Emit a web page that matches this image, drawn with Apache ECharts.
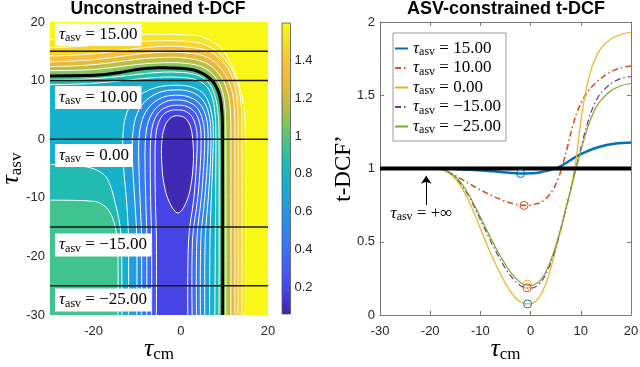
<!DOCTYPE html>
<html>
<head>
<meta charset="utf-8">
<title>Unconstrained and ASV-constrained t-DCF</title>
<style>
  html, body { margin: 0; padding: 0; background: #fff; }
  #main { width: 640px; height: 367px; }
</style>
<script src="https://cdn.jsdelivr.net/npm/echarts@6/dist/echarts.min.js"></script>
</head>
<body>
<div id="main"></div>
<script>
// ---- right panel: normalised t-DCF' per tau_asv row
var tauCm = [-30, -25, -20, -18, -17, -16, -15, -14, -13, -12, -11, -10, -9, -8, -7, -6, -5, -4, -3, -2, -1,
             0, 1, 2, 3, 4, 5, 6, 7, 8, 9, 10, 11, 12, 13, 14, 16, 18, 20];
var dcfAsv15 = [1, 1, 1, 1, 0.999, 0.998, 0.997, 0.995, 0.993, 0.991, 0.989, 0.987, 0.985, 0.982, 0.979, 0.976, 0.973, 0.97, 0.968, 0.966, 0.966,
                0.967, 0.97, 0.975, 0.982, 0.991, 1.002, 1.017, 1.036, 1.058, 1.079, 1.098, 1.114, 1.128, 1.14, 1.15, 1.165, 1.174, 1.178];
var dcfAsv10 = [1, 1, 1, 0.995, 0.985, 0.97, 0.952, 0.932, 0.912, 0.892, 0.872, 0.853, 0.836, 0.819, 0.803, 0.789, 0.776, 0.765, 0.756, 0.75, 0.748,
                0.75, 0.757, 0.77, 0.792, 0.83, 0.89, 0.98, 1.1, 1.24, 1.36, 1.445, 1.505, 1.55, 1.585, 1.615, 1.66, 1.688, 1.7];
var dcfAsv0 = [1, 1, 0.999, 0.993, 0.983, 0.962, 0.93, 0.885, 0.825, 0.755, 0.675, 0.59, 0.505, 0.425, 0.35, 0.28, 0.215, 0.16, 0.118, 0.09, 0.076,
               0.076, 0.092, 0.135, 0.21, 0.315, 0.445, 0.58, 0.72, 0.86, 1.05, 1.32, 1.53, 1.67, 1.76, 1.82, 1.885, 1.915, 1.93];
var dcfAsvM15 = [1, 1, 0.999, 0.994, 0.985, 0.967, 0.94, 0.9, 0.85, 0.79, 0.722, 0.65, 0.578, 0.507, 0.44, 0.375, 0.318, 0.268, 0.228, 0.2, 0.185,
                 0.183, 0.193, 0.222, 0.275, 0.355, 0.46, 0.585, 0.72, 0.86, 1.0, 1.14, 1.27, 1.38, 1.46, 1.515, 1.58, 1.615, 1.628];
var dcfAsvM25 = [1, 1, 0.999, 0.995, 0.987, 0.97, 0.945, 0.908, 0.86, 0.802, 0.737, 0.668, 0.598, 0.53, 0.463, 0.4, 0.343, 0.292, 0.252, 0.222, 0.205,
                 0.202, 0.212, 0.24, 0.292, 0.37, 0.47, 0.59, 0.72, 0.855, 0.99, 1.12, 1.24, 1.34, 1.415, 1.465, 1.53, 1.565, 1.58];
var rowNames = ['15.00', '10.00', '0.00', '\u221215.00', '\u221225.00'];
// circles at the minima: tau_cm, t-DCF', colour index
var minMarks = [[-2, 0.966, 0], [-1.3, 0.748, 1], [-0.7, 0.21, 2], [-0.7, 0.186, 1], [-0.6, 0.076, 0]];
var baseLevel = 1; // tau_asv = +inf

// ---- left panel: contour lines of the unconstrained t-DCF (tau_cm, tau_asv)
var levels = [1.55, 1.5, 1.4, 1.3, 1.2, 1.1, 1.0, 0.9, 0.8, 0.7, 0.6, 0.5, 0.4, 0.3, 0.2, 0.1];
// colour (as a t-DCF value) seen inside each line, below its level
var bandValues = [1.53, 1.46, 1.36, 1.26, 1.17, 1.08, 0.95, 0.86, 0.76, 0.66, 0.56, 0.46, 0.36, 0.27, 0.19, 0.08];
var c155 = [[-30, 17.0], [-22, 17.3], [-14, 17.65], [-6, 17.9], [1, 17.8], [5, 17.45], [9.4, 15.4], [11.9, 12.2], [13.6, 8.6], [14.5, 5.2], [14.8, 1], [14.8, -30]];
var c150 = [[-30, 15.6], [-22, 15.9], [-16, 16.3], [-10, 16.65], [-4, 16.8], [1, 16.7], [6, 16.0], [10.2, 13.6], [12.8, 10.0], [13.8, 6.2], [14.0, 2], [14.0, -30]];
var c140 = [[-30, 14.2], [-22, 14.45], [-16, 14.9], [-10, 15.5], [-4, 15.85], [1, 15.75], [6.5, 15.0], [10.3, 12.6], [12.4, 9.2], [13.0, 5.5], [13.1, 0], [13.1, -30]];
var c130 = [[-30, 13.2], [-22, 13.45], [-16, 13.9], [-10, 14.5], [-4, 14.85], [1, 14.75], [6, 14.0], [9.5, 11.8], [11.6, 8.6], [12.3, 4.8], [12.4, 0], [12.4, -30]];
var c120 = [[-30, 12.4], [-22, 12.6], [-16, 13.05], [-10, 13.65], [-4, 13.95], [1, 13.85], [5.5, 13.1], [8.7, 11.2], [10.7, 8.2], [11.4, 4.6], [11.5, 0], [11.5, -30]];
var c110 = [[-30, 11.7], [-22, 11.8], [-16, 12.2], [-10, 12.75], [-4, 13.05], [1, 12.95], [5, 12.3], [7.9, 10.6], [9.6, 8.0], [10.2, 4.6], [10.3, 0], [10.3, -30]];
var c100 = [[-30, 10.8], [-22, 10.85], [-18, 11.0], [-14, 11.4], [-10, 11.9], [-5, 12.2], [0, 12.1], [3, 11.8], [4.6, 11.35], [6.1, 10.7], [7.4, 9.8], [8.4, 8.5], [9.0, 7.1], [9.4, 5.0], [9.55, 2.5], [9.6, -30]];
var c090 = [[-30, 10.1], [-22, 10.25], [-16, 10.55], [-10, 11.05], [-4, 11.45], [0, 11.4], [3, 11.1], [5, 10.5], [6.7, 9.3], [7.8, 7.4], [8.5, 4.8], [8.75, 1.5], [8.75, -30]];
var c090low = [[-30, -10.4], [-24, -10.45], [-20, -10.6], [-18.3, -11.0], [-16.6, -12.1], [-15.3, -14.2], [-14.6, -17], [-14.4, -20], [-14.4, -30]];
var c080 = [[-30, 9.3], [-22, 9.45], [-16, 9.8], [-10, 10.25], [-4, 10.6], [0, 10.55], [3, 10.25], [5, 9.6], [6.5, 8.4], [7.4, 6.6], [7.9, 4.0], [8.05, 1], [8.0, -8], [7.8, -30]];
var c080low = [[-30, -4.3], [-24, -4.5], [-19.8, -5.1], [-17.2, -6.4], [-15.9, -8.5], [-15.0, -11], [-14.0, -14.5], [-13.6, -18], [-13.5, -30]];
var c070 = [[-12.0, -30], [-12.0, -17], [-12.4, -11], [-13.1, -5], [-13.3, 0], [-12.6, 4], [-10.4, 6.9], [-6.6, 8.6], [-2, 9.2], [2.5, 8.9], [5.4, 7.6], [6.9, 5.0], [7.45, 1.5], [7.3, -4], [7.0, -10], [6.7, -17], [6.6, -30]];
var c060 = [[-10.1, -30], [-10.1, -17], [-10.5, -11], [-11.0, -5], [-11.1, 0], [-10.3, 3.8], [-8.4, 6.3], [-5.2, 7.9], [-1.5, 8.4], [2.2, 8.1], [4.9, 6.8], [6.4, 4.4], [6.9, 1.2], [6.8, -4], [6.3, -10], [5.6, -17], [5.5, -30]];
var c050 = [[-9.0, -30], [-9.0, -17], [-9.3, -11], [-9.6, -5], [-9.6, 0], [-8.8, 3.4], [-7.0, 5.7], [-4.3, 7.1], [-1.2, 7.5], [1.9, 7.2], [4.4, 6.0], [5.8, 3.8], [6.25, 1.0], [6.1, -4], [5.5, -10], [4.6, -17], [4.5, -30]];
var c040 = [[-7.8, -30], [-7.8, -17], [-8.0, -11], [-8.2, -5], [-8.1, 0], [-7.4, 3.1], [-5.8, 5.2], [-3.5, 6.4], [-1.0, 6.7], [1.6, 6.4], [3.8, 5.3], [5.0, 3.3], [5.45, 0.8], [5.3, -4], [4.7, -10], [3.7, -17], [3.6, -30]];
var c030 = [[-6.7, -30], [-6.7, -17], [-6.9, -11], [-7.0, -5], [-6.9, 0], [-6.3, 2.8], [-4.9, 4.7], [-2.8, 5.6], [-0.8, 5.8], [1.3, 5.6], [3.2, 4.6], [4.3, 2.8], [4.65, 0.5], [4.5, -4], [3.9, -10], [2.7, -17], [2.6, -30]];
var c020 = [[-5.6, -30], [-5.6, -17], [-5.8, -11], [-5.9, -5], [-5.8, 0], [-5.2, 2.6], [-4.0, 4.2], [-2.3, 4.9], [-0.7, 5.0], [1.0, 4.8], [2.5, 3.9], [3.4, 2.3], [3.75, 0.3], [3.6, -4], [3.0, -10], [1.8, -17], [1.6, -30]];
var c010 = [[-0.7, 4.0], [1.0, 3.6], [2.2, 2.2], [2.8, -0.5], [2.9, -3.5], [2.5, -7], [1.4, -10.5], [-0.6, -12.6], [-2.6, -10.8], [-3.9, -7.5], [-4.4, -3.5], [-4.3, 0], [-3.5, 2.5], [-2.2, 3.7]];
var topValue = 1.585;   // colour beyond the outermost line
var asvRows = [15, 10, 0, -15, -25];
// where the white boxes sit: tau_cm, tau_asv, text
var asvLabels = [[-28.85, 17.87, '15.00'], [-28.85, 7.12, '10.00'], [-28.85, -2.78, '0.00'],
                 [-28.85, -18.05, '\u221215.00'], [-28.85, -27.44, '\u221225.00']];
var cbMin = 0.059, cbMax = 1.597;
var cbTicks = [0.2, 0.4, 0.6, 0.8, 1, 1.2, 1.4];

// parula, as seen on the colour bar
var parula = [[0.00, '#3E26A8'], [0.04, '#4530CC'], [0.08, '#4642E4'], [0.14, '#4656F3'], [0.20, '#3F6BF8'],
              [0.28, '#3182F0'], [0.36, '#2698E2'], [0.44, '#13ADD2'], [0.51, '#1BBAB8'], [0.57, '#3AC295'],
              [0.63, '#68C66E'], [0.69, '#A2C24C'], [0.75, '#D0BD3B'], [0.81, '#F3B93E'], [0.87, '#FAC33A'],
              [0.94, '#F4DF2B'], [1.00, '#F9FB15']];

var SERIF = "'Liberation Serif', 'DejaVu Serif', serif";
var SANS = "'Liberation Sans', Arial, Helvetica, sans-serif";
var INK = '#262626';
var BOXC = '#7a7a7a';
var lineColors = ['#0072BD', '#D95319', '#EDB120', '#7E2F8E', '#77AC30'];

function hex2rgb(h) {
    return [parseInt(h.substr(1, 2), 16), parseInt(h.substr(3, 2), 16), parseInt(h.substr(5, 2), 16)];
}
function parulaAt(v) {
    var t = Math.max(0, Math.min(1, (v - cbMin) / (cbMax - cbMin)));
    for (var i = 1; i < parula.length; i++) {
        if (t <= parula[i][0]) {
            var a = parula[i - 1], b = parula[i];
            var f = (t - a[0]) / (b[0] - a[0]);
            var ca = hex2rgb(a[1]), cb = hex2rgb(b[1]);
            return 'rgb(' + [0, 1, 2].map(function (k) { return Math.round(ca[k] + (cb[k] - ca[k]) * f); }).join(',') + ')';
        }
    }
    return parula[parula.length - 1][1];
}

var contours = [
    {kind: 'gamma', pts: c155}, {kind: 'gamma', pts: c150}, {kind: 'gamma', pts: c140},
    {kind: 'gamma', pts: c130}, {kind: 'gamma', pts: c120}, {kind: 'gamma', pts: c110},
    {kind: 'gamma', pts: c100, black: true},
    {kind: 'band', pts: c090, low: c090low}, {kind: 'band', pts: c080, low: c080low},
    {kind: 'U', pts: c070}, {kind: 'U', pts: c060}, {kind: 'U', pts: c050},
    {kind: 'U', pts: c040}, {kind: 'U', pts: c030}, {kind: 'U', pts: c020},
    {kind: 'closed', pts: c010}
];
var EXT = -34;
function fillPoly(c) {
    var p = c.pts, n = p.length;
    if (c.kind === 'gamma') return [[EXT, p[0][1]]].concat(p, [[p[n - 1][0], EXT], [EXT, EXT]]);
    if (c.kind === 'band') {
        var q = c.low.slice().reverse();
        return [[EXT, p[0][1]]].concat(p, [[p[n - 1][0], EXT], [q[0][0], EXT]], q, [[EXT, q[q.length - 1][1]]]);
    }
    if (c.kind === 'U') return [[p[0][0], EXT]].concat(p, [[p[n - 1][0], EXT]]);
    return p;
}

var SM = 0.35;
function renderMap(params, api) {
    var px = function (pts) { return pts.map(function (p) { return api.coord(p); }); };
    var kids = [];
    kids.push({type: 'polygon', shape: {points: px([[EXT, 24], [24, 24], [24, EXT], [EXT, EXT]])},
               style: {fill: parulaAt(topValue)}});
    contours.forEach(function (c, i) {
        kids.push({type: 'polygon', shape: {points: px(fillPoly(c)), smooth: SM}, style: {fill: parulaAt(bandValues[i])}});
    });
    contours.forEach(function (c) {
        var st = {fill: 'none', stroke: c.black ? '#000' : '#fff', lineWidth: c.black ? 3 : 1};
        if (c.kind === 'closed') {
            kids.push({type: 'polygon', shape: {points: px(c.pts), smooth: SM}, style: st});
        } else {
            kids.push({type: 'polyline', shape: {points: px(c.pts), smooth: SM}, style: st});
            if (c.low) kids.push({type: 'polyline', shape: {points: px(c.low), smooth: SM}, style: st});
        }
    });
    return {type: 'group', children: kids};
}

function renderBar(params, api) {
    var a = api.coord([0, cbMax]), b = api.coord([1, cbMin]);
    var stops = parula.map(function (s) { return {offset: s[0], color: s[1]}; });
    var shape = {x: a[0], y: a[1], width: b[0] - a[0], height: b[1] - a[1]};
    return {type: 'group', children: [
        {type: 'rect', shape: shape, style: {fill: new echarts.graphic.LinearGradient(0, 1, 0, 0, stops)}},
        {type: 'rect', shape: shape, style: {fill: 'none', stroke: '#555', lineWidth: 0.8}}
    ]};
}

function mathRich(size, sub) {
    return {
        t: {fontFamily: SERIF, fontStyle: 'italic', fontSize: size, lineHeight: size + 2, color: '#000'},
        s: {fontFamily: SERIF, fontSize: sub, lineHeight: sub - 1, verticalAlign: 'bottom', color: '#000'},
        e: {fontFamily: SERIF, fontSize: size, lineHeight: size + 2, color: '#000'}
    };
}
function asvText(v) { return '{t|\u03c4}{s|asv}{e| = ' + v + '}'; }

var tickLabel = {color: INK, fontFamily: SANS, fontSize: 13};

function rowSeries(vals, k) {
    return {
        name: rowNames[k], type: 'line', xAxisIndex: 1, yAxisIndex: 1,
        data: tauCm.map(function (x, i) { return [x, vals[i]]; }),
        showSymbol: false, symbol: 'none', smooth: 0.3,
        lineStyle: {color: lineColors[k], width: k === 0 ? 2.5 : (k === 1 ? 1.6 : 1.2),
                    type: (k === 1 || k === 3) ? [6, 3, 1.5, 3] : 'solid'},
        itemStyle: {color: lineColors[k]}, z: 3
    };
}

var chart = echarts.init(document.getElementById('main'));
chart.setOption({
    animation: false,
    backgroundColor: '#fff',
    graphic: [
        {type: 'text', x: 158, y: 9, style: {text: 'Unconstrained t-DCF', fontFamily: SANS, fontWeight: 'bold',
         fontSize: 17.5, fill: '#000', align: 'center', verticalAlign: 'middle'}},
        {type: 'text', x: 506, y: 9, style: {text: 'ASV-constrained t-DCF', fontFamily: SANS, fontWeight: 'bold',
         fontSize: 18, fill: '#000', align: 'center', verticalAlign: 'middle'}}
    ],
    grid: [
        {left: 50, top: 22, width: 218, height: 293, outerBoundsMode: 'none'},
        {left: 380, top: 22, width: 251, height: 293, outerBoundsMode: 'none'},
        {left: 282, top: 23, width: 8.5, height: 291, outerBoundsMode: 'none'}
    ],
    xAxis: [
        {gridIndex: 0, type: 'value', min: -30, max: 20,
         axisLine: {show: false, onZero: false}, axisTick: {show: false}, splitLine: {show: false},
         axisLabel: Object.assign({margin: 10, customValues: [-20, 0, 20]}, tickLabel),
         name: '{t|\u03c4}{s|cm}', nameLocation: 'middle', nameGap: 20, nameMoveOverlap: false,
         nameTextStyle: {rich: mathRich(26, 17)}},
        {gridIndex: 1, type: 'value', min: -30, max: 20, interval: 10,
         axisLine: {onZero: false, lineStyle: {color: BOXC}}, axisTick: {inside: true, length: 4, lineStyle: {color: BOXC}},
         splitLine: {show: false}, axisLabel: Object.assign({margin: 10}, tickLabel),
         name: '{t|\u03c4}{s|cm}', nameLocation: 'middle', nameGap: 20, nameMoveOverlap: false,
         nameTextStyle: {rich: mathRich(26, 17)}},
        {gridIndex: 1, type: 'value', position: 'top', min: -30, max: 20, interval: 10,
         axisLine: {onZero: false, lineStyle: {color: BOXC}}, axisTick: {inside: true, length: 4, lineStyle: {color: BOXC}},
         axisLabel: {show: false}, splitLine: {show: false}},
        {gridIndex: 2, type: 'value', min: 0, max: 1, show: false}
    ],
    yAxis: [
        {gridIndex: 0, type: 'value', min: -30, max: 20, interval: 10,
         axisLine: {show: false, onZero: false}, axisTick: {show: false}, splitLine: {show: false},
         axisLabel: Object.assign({margin: 5}, tickLabel),
         name: '{t|\u03c4}{s|asv}', nameLocation: 'middle', nameGap: 25, nameMoveOverlap: false,
         nameTextStyle: {rich: mathRich(26, 17)}},
        {gridIndex: 1, type: 'value', min: 0, max: 2, interval: 0.5,
         axisLine: {show: true, onZero: false, lineStyle: {color: BOXC}},
         axisTick: {show: true, inside: true, length: 4, lineStyle: {color: BOXC}},
         splitLine: {show: false}, axisLabel: Object.assign({margin: 5}, tickLabel),
         name: 't-DCF\u2019', nameLocation: 'middle', nameGap: 25, nameMoveOverlap: false,
         nameTextStyle: {fontFamily: SERIF, fontSize: 23, color: '#000'}},
        {gridIndex: 1, type: 'value', position: 'right', min: 0, max: 2, interval: 0.5,
         axisLine: {show: true, onZero: false, lineStyle: {color: BOXC}},
         axisTick: {show: true, inside: true, length: 4, lineStyle: {color: BOXC}},
         axisLabel: {show: false}, splitLine: {show: false}},
        {gridIndex: 2, type: 'value', position: 'right', min: cbMin, max: cbMax,
         axisLine: {show: false, onZero: false}, splitLine: {show: false},
         axisTick: {show: true, inside: true, length: 2.5, customValues: cbTicks, lineStyle: {color: '#444'}},
         axisLabel: Object.assign({margin: 4, customValues: cbTicks}, tickLabel)}
    ],
    legend: {
        left: 393, top: 33, orient: 'vertical', backgroundColor: '#fff',
        borderColor: '#9a9a9a', borderWidth: 1, borderRadius: 0,
        padding: [7, 5, 5, 1], itemGap: 1.5, itemWidth: 13, itemHeight: 6,
        itemStyle: {color: 'rgba(0,0,0,0)', borderWidth: 0, opacity: 0},
        data: rowNames,
        formatter: function (n) { return asvText(n); },
        textStyle: {rich: mathRich(17, 12)}
    },
    series: [
        {type: 'custom', xAxisIndex: 0, yAxisIndex: 0, data: [[0, 0]], renderItem: renderMap, clip: true, silent: true, z: 1},
        {type: 'line', xAxisIndex: 0, yAxisIndex: 0, silent: true, symbol: 'none', z: 3,
         lineStyle: {color: '#1a1a1a', width: 1.5},
         data: asvRows.reduce(function (acc, r) { return acc.concat([[-30, r], [20, r], null]); }, [])},
        {type: 'scatter', xAxisIndex: 0, yAxisIndex: 0, silent: true, symbolSize: 0, z: 4,
         itemStyle: {opacity: 1},
         data: asvLabels,
         label: {show: true, position: 'right', distance: 0, backgroundColor: '#fff', padding: [2, 4, 2, 4], opacity: 1,
                 formatter: function (p) { return asvText(p.value[2]); }, rich: mathRich(17, 12)}},
        {type: 'custom', xAxisIndex: 3, yAxisIndex: 3, data: [[0, 0]], renderItem: renderBar, silent: true},

        rowSeries(dcfAsv15, 0), rowSeries(dcfAsv10, 1), rowSeries(dcfAsv0, 2), rowSeries(dcfAsvM15, 3), rowSeries(dcfAsvM25, 4),
        {type: 'line', xAxisIndex: 1, yAxisIndex: 1, silent: true, symbol: 'none', z: 4,
         lineStyle: {color: '#000', width: 4},
         data: [[-30, baseLevel], [20, baseLevel]]},
        {type: 'scatter', xAxisIndex: 1, yAxisIndex: 1, silent: true, symbol: 'circle', symbolSize: 8, z: 5,
         data: minMarks.map(function (m) {
             return {value: [m[0], m[1]], itemStyle: {color: 'rgba(0,0,0,0)', borderColor: lineColors[m[2]], borderWidth: 1, opacity: 1}};
         })},
        {type: 'scatter', xAxisIndex: 1, yAxisIndex: 1, silent: true, symbolSize: 0, z: 5,
         itemStyle: {opacity: 1},
         data: [[-27.9, 0.696]],
         label: {show: true, position: 'right', distance: 0, opacity: 1, formatter: asvText('+\u221e'), rich: mathRich(17, 12)},
         markLine: {silent: true, symbol: ['none', 'arrow'], symbolSize: 8, label: {show: false},
                    lineStyle: {color: '#000', width: 1, type: 'solid', opacity: 1},
                    data: [[{coord: [-20.8, 0.75]}, {coord: [-20.8, 0.95]}]]}}
    ]
});
</script>
</body>
</html>
